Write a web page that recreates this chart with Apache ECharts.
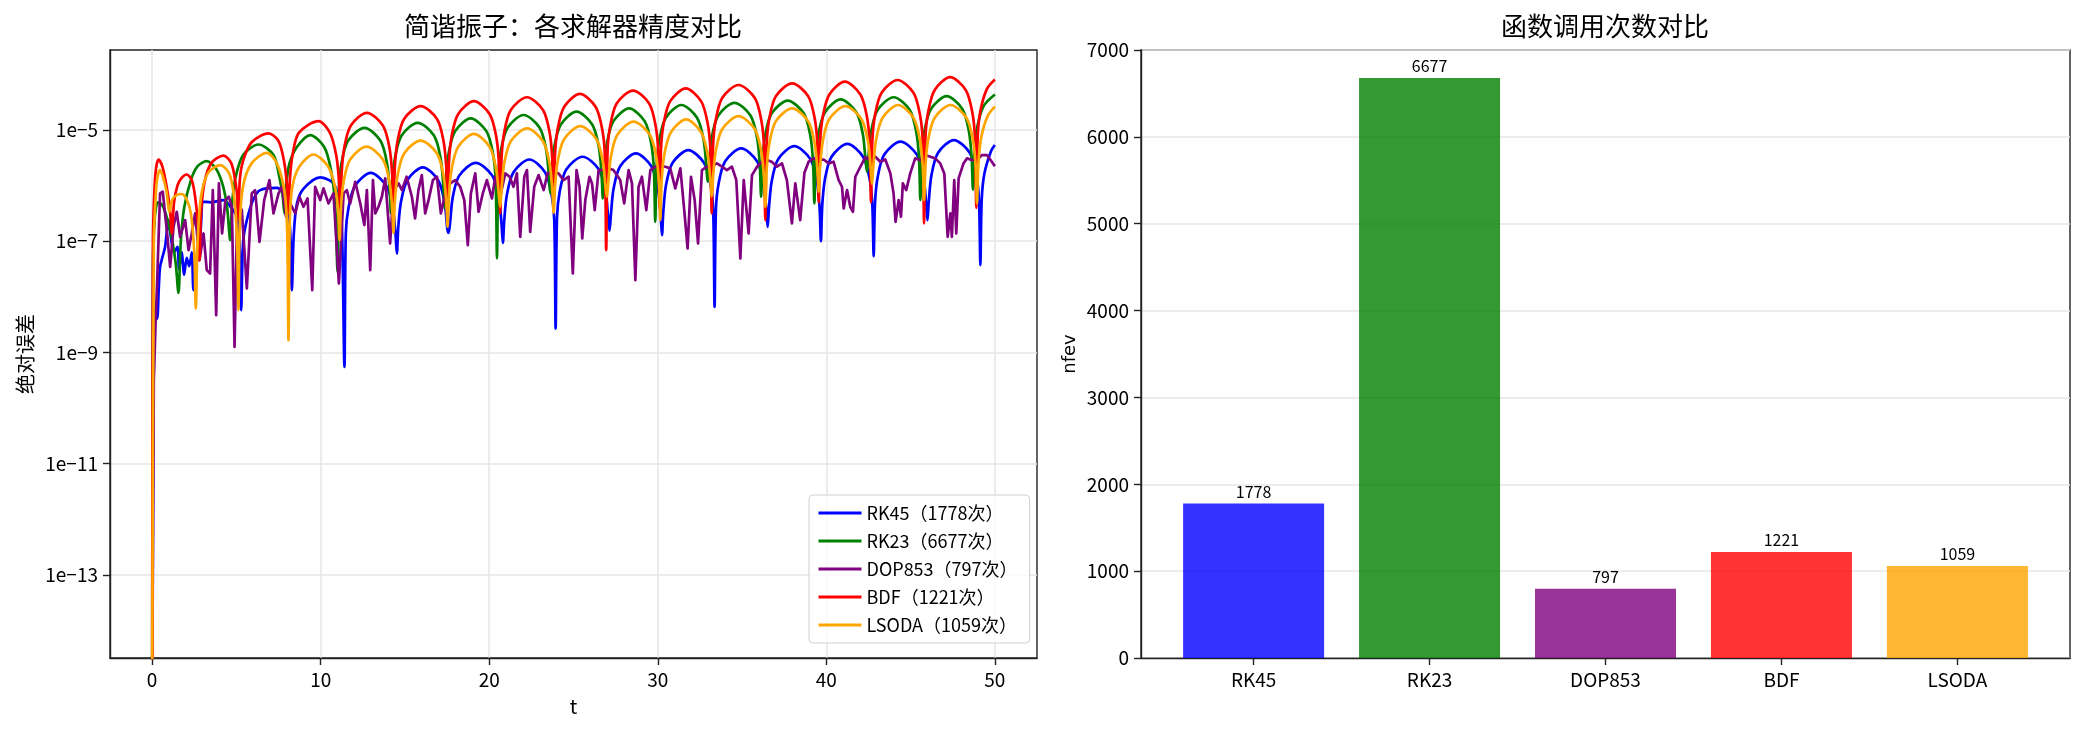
<!DOCTYPE html>
<html>
<head>
<meta charset="utf-8">
<script src="https://cdn.jsdelivr.net/npm/echarts@6.0.0/dist/echarts.min.js"></script>
<style>
  html, body { margin: 0; padding: 0; background: #fff; }
  #main { width: 2085px; height: 735px; }
</style>
</head>
<body>
<div id="main"></div>
<script>
// 求解器名称与函数调用次数
var methods = ['RK45', 'RK23', 'DOP853', 'BDF', 'LSODA'];
var nfev = [1778, 6677, 797, 1221, 1059];
var lineColors = ['#0000ff', '#008000', '#800080', '#ff0000', '#ffa500'];
var barColors = ['rgba(0,0,255,0.8)', 'rgba(0,128,0,0.8)', 'rgba(128,0,128,0.8)', 'rgba(255,0,0,0.8)', 'rgba(255,165,0,0.8)'];

// 刻度
var tTicks = [0, 10, 20, 30, 40, 50];
var errTicks = [1e-13, 1e-11, 1e-9, 1e-7, 1e-5];
var barTicks = [0, 1, 2, 3, 4];

// 绝对误差，每点为 [t, log10(误差)]
var rk45Log = [[0,-15.5],[0.1,-9.0],[0.2,-8.2],[0.3,-8.39],[0.4,-7.8],[0.47,-7.46],[0.6,-7.3],[0.77,-7.1],[0.97,-6.62],[1.1,-6.9],[1.3,-7.2],[1.5,-7.1],[1.6,-7.5],[1.75,-7.2],[1.9,-7.6],[2.05,-7.3],[2.2,-7.45],[2.35,-7.2],[2.45,-7.88],[2.6,-7.3],[2.75,-7.34],[2.9,-6.7],[3.05,-6.29],[3.5,-6.3],[4.23,-6.26],[4.7,-6.4],[5.02,-6.56],[5.18,-7.0],[5.28,-8.24],[5.4,-7.0],[5.62,-6.62],[6.0,-6.25],[6.41,-6.08],[7.4,-6.04],[7.99,-6.26],[8.2,-6.9],[8.29,-7.88],[8.4,-6.9],[8.59,-6.32],[9.0,-6.05],[9.97,-5.85],[10.76,-5.96],[11.1,-6.3],[11.26,-6.74],[11.41,-9.26],
  [11.49,-6.87],[11.65,-6.40],[12.04,-6.00],[12.97,-5.77],[13.89,-6.00],[14.28,-6.40],[14.44,-6.87],[14.52,-7.22],
  [14.60,-6.77],[14.76,-6.30],[15.15,-5.90],[16.06,-5.67],[16.96,-5.90],[17.35,-6.30],[17.51,-6.77],[17.59,-6.85],
  [17.67,-6.69],[17.83,-6.22],[18.22,-5.82],[19.2,-5.59],[20.18,-5.82],[20.57,-6.22],[20.73,-6.69],[20.81,-7.03],
  [20.89,-6.63],[21.05,-6.16],[21.44,-5.76],[22.38,-5.53],[23.31,-5.76],[23.70,-6.16],[23.86,-6.63],[23.94,-8.57],
  [24.02,-6.58],[24.18,-6.11],[24.57,-5.71],[25.54,-5.48],[26.51,-5.71],[26.90,-6.11],[27.06,-6.58],[27.14,-6.81],
  [27.22,-6.52],[27.38,-6.05],[27.77,-5.65],[28.7,-5.42],[29.62,-5.65],[30.01,-6.05],[30.17,-6.52],[30.25,-6.89],
  [30.33,-6.46],[30.49,-5.99],[30.88,-5.59],[31.81,-5.36],[32.74,-5.59],[33.13,-5.99],[33.29,-6.46],[33.37,-8.18],
  [33.45,-6.43],[33.61,-5.96],[34.00,-5.56],[34.95,-5.33],[35.89,-5.56],[36.28,-5.96],[36.44,-6.43],[36.52,-6.74],
  [36.60,-6.39],[36.76,-5.92],[37.15,-5.52],[38.1,-5.29],[39.05,-5.52],[39.44,-5.92],[39.60,-6.39],[39.68,-7.0],
  [39.76,-6.35],[39.92,-5.88],[40.31,-5.48],[41.25,-5.25],[42.18,-5.48],[42.57,-5.88],[42.73,-6.35],[42.81,-7.27],
  [42.89,-6.31],[43.05,-5.84],[43.44,-5.44],[44.4,-5.21],[45.37,-5.44],[45.76,-5.84],[45.92,-6.31],[46.0,-6.62],
  [46.08,-6.28],[46.24,-5.81],[46.63,-5.41],[47.57,-5.18],[48.51,-5.41],[48.90,-5.81],[49.06,-6.28],[49.14,-7.43],
  [49.22,-6.25],[49.38,-5.78],[49.77,-5.38],[50,-5.27]];

var rk23Log = [[0,-15.5],[0.05,-7.5],[0.15,-6.6],[0.35,-6.3],[0.6,-6.35],[0.9,-6.6],[1.2,-7.0],[1.4,-7.4],[1.56,-7.93],[1.7,-7.0],[1.9,-6.4],[2.3,-5.9],[2.7,-5.65],[3.24,-5.56],[3.8,-5.7],[4.2,-6.0],[4.45,-6.4],[4.63,-6.98],[4.75,-6.3],[4.95,-5.85],[5.4,-5.45],[6.31,-5.26],[7.2,-5.45],[7.55,-5.85],[7.75,-6.2],[7.85,-6.5],[7.95,-6.0],[8.15,-5.6],[8.6,-5.3],[9.38,-5.09],[10.2,-5.3],[10.6,-5.7],[10.85,-6.3],[11.0,-7.55],
  [11.08,-6.06],[11.24,-5.59],[11.63,-5.19],[12.6,-4.96],[13.54,-5.19],[13.93,-5.59],[14.09,-6.06],[14.17,-6.5],
  [14.25,-5.97],[14.41,-5.50],[14.80,-5.10],[15.76,-4.87],[16.72,-5.10],[17.11,-5.50],[17.27,-5.97],[17.35,-6.4],
  [17.43,-5.89],[17.59,-5.42],[17.98,-5.02],[18.9,-4.79],[19.83,-5.02],[20.22,-5.42],[20.38,-5.89],[20.46,-7.31],
  [20.54,-5.83],[20.70,-5.36],[21.09,-4.96],[22.04,-4.73],[22.99,-4.96],[23.38,-5.36],[23.54,-5.83],[23.62,-6.14],
  [23.70,-5.77],[23.86,-5.30],[24.25,-4.90],[25.18,-4.67],[26.11,-4.90],[26.50,-5.30],[26.66,-5.77],[26.74,-6.23],
  [26.82,-5.71],[26.98,-5.24],[27.37,-4.84],[28.3,-4.61],[29.22,-4.84],[29.61,-5.24],[29.77,-5.71],[29.85,-6.65],
  [29.93,-5.65],[30.09,-5.18],[30.48,-4.78],[31.4,-4.55],[32.33,-4.78],[32.72,-5.18],[32.88,-5.65],[32.96,-5.93],
  [33.04,-5.61],[33.20,-5.14],[33.59,-4.74],[34.55,-4.51],[35.50,-4.74],[35.89,-5.14],[36.05,-5.61],[36.13,-6.2],
  [36.21,-5.57],[36.37,-5.10],[36.76,-4.70],[37.71,-4.47],[38.66,-4.70],[39.05,-5.10],[39.21,-5.57],[39.29,-6.32],
  [39.37,-5.55],[39.53,-5.08],[39.92,-4.68],[40.85,-4.45],[41.78,-4.68],[42.17,-5.08],[42.33,-5.55],[42.41,-5.75],
  [42.49,-5.51],[42.65,-5.04],[43.04,-4.64],[44.0,-4.41],[44.95,-4.64],[45.34,-5.04],[45.50,-5.51],[45.58,-6.26],
  [45.66,-5.49],[45.82,-5.02],[46.21,-4.62],[47.14,-4.39],[48.07,-4.62],[48.46,-5.02],[48.62,-5.49],[48.7,-6.07],
  [48.78,-5.44],[48.94,-4.97],[49.33,-4.57],[50,-4.36]];

var dop853Log = [[0,-15.5],[0.1,-9.5],[0.2,-8.5],[0.28,-7.88],[0.47,-6.14],[0.63,-6.11],[0.87,-6.8],[1.07,-7.46],[1.27,-6.74],[1.46,-6.47],[1.66,-6.92],[1.96,-6.62],[2.16,-7.16],[2.35,-6.86],[2.55,-6.5],[2.81,-7.34],[3.05,-6.86],[3.24,-7.52],[3.44,-7.58],[3.6,-6.08],[3.8,-8.33],[3.96,-5.96],[4.15,-6.86],[4.35,-6.26],[4.55,-6.2],[4.73,-6.38],[4.89,-8.9],[5.06,-6.32],[5.32,-6.44],[5.62,-7.85],[5.91,-6.14],[6.11,-6.08],[6.37,-7.01],[6.65,-6.26],[6.96,-5.9],[7.2,-6.5],[7.5,-6.14],[7.7,-6.02],[7.95,-6.56],[8.19,-6.32],[8.49,-6.5],[8.74,-6.2],[8.98,-6.38],[9.22,-6.23],[9.5,-7.88],[9.67,-6.02],[9.97,-6.26],[10.17,-6.05],[10.46,-6.32],[10.76,-6.14],[11.08,-7.76],[11.36,-6.14],[11.55,-6.08],[11.75,-6.32],[12.05,-5.93],[12.35,-6.32],[12.59,-6.71],[12.74,-6.08],[12.94,-7.52],[13.1,-5.9],[13.24,-6.5],[13.43,-6.38],[13.63,-6.2],[13.83,-5.87],[14.12,-7.04],[14.32,-6.08],[14.62,-5.96],[14.82,-6.08],[15.1,-5.84],[15.41,-6.2],[15.6,-6.59],[15.8,-6.08],[16.0,-5.81],[16.2,-6.5],[16.4,-6.26],[16.66,-5.9],[16.9,-5.84],[17.13,-6.5],[17.39,-6.14],[17.69,-5.96],[17.98,-5.9],[18.28,-6.02],[18.52,-6.26],[18.73,-7.07],[18.91,-6.14],[19.17,-5.78],[19.37,-6.47],[19.62,-6.14],[19.86,-5.9],[20.16,-6.23],[20.36,-5.84],[20.65,-6.2],[20.95,-5.78],[21.21,-5.84],[21.44,-6.02],[21.64,-5.78],[21.84,-6.92],[22.08,-5.84],[22.24,-5.72],[22.43,-6.83],[22.67,-6.02],[22.93,-5.81],[23.23,-6.08],[23.46,-5.78],[23.82,-5.75],[24.11,-5.78],[24.41,-5.9],[24.71,-5.84],[24.96,-7.58],[25.18,-5.72],[25.36,-6.02],[25.52,-6.95],[25.7,-6.26],[25.95,-5.84],[26.1,-5.96],[26.26,-6.44],[26.49,-5.72],[26.78,-5.72],[27.08,-5.69],[27.37,-5.72],[27.77,-5.9],[28.01,-6.32],[28.27,-5.72],[28.47,-5.96],[28.67,-7.7],[28.86,-6.02],[29.06,-5.84],[29.32,-6.44],[29.56,-5.72],[29.85,-5.66],[30.15,-5.65],[30.45,-5.66],[30.74,-5.69],[31.04,-6.05],[31.34,-5.69],[31.57,-6.44],[31.77,-7.13],[31.97,-5.84],[32.19,-6.26],[32.39,-7.04],[32.62,-5.72],[32.92,-5.66],[33.21,-5.65],[33.51,-5.6],[33.81,-5.66],[34.1,-5.72],[34.4,-5.66],[34.66,-5.9],[34.9,-7.31],[35.1,-5.9],[35.39,-6.86],[35.59,-5.81],[35.89,-5.66],[36.18,-5.57],[36.46,-5.54],[36.76,-5.57],[37.07,-5.66],[37.37,-5.6],[37.66,-5.9],[37.96,-6.68],[38.16,-5.96],[38.45,-6.62],[38.7,-5.77],[38.95,-5.57],[39.25,-5.51],[39.55,-5.54],[39.84,-5.53],[40.14,-5.6],[40.43,-5.57],[40.73,-5.9],[40.93,-6.02],[41.03,-6.41],[41.23,-6.08],[41.42,-6.38],[41.58,-6.47],[41.72,-5.84],[42.02,-5.66],[42.31,-5.49],[42.61,-5.54],[42.91,-5.48],[43.2,-5.57],[43.5,-5.53],[43.8,-5.78],[43.99,-6.14],[44.11,-6.65],[44.29,-6.26],[44.43,-6.56],[44.54,-5.96],[44.74,-6.08],[44.98,-5.78],[45.27,-5.51],[45.57,-5.54],[45.87,-5.45],[46.17,-5.48],[46.46,-5.51],[46.76,-5.6],[47.0,-5.78],[47.2,-6.92],[47.36,-6.5],[47.45,-6.92],[47.59,-5.9],[47.71,-6.86],[47.85,-5.87],[48.14,-5.6],[48.34,-5.51],[48.64,-5.54],[48.93,-5.54],[49.23,-5.45],[49.53,-5.45],[49.82,-5.57],[50,-5.65]];

var bdfLog = [[0,-15.5],[0.05,-7.0],[0.15,-6.0],[0.25,-5.65],[0.38,-5.53],[0.6,-5.65],[0.85,-6.0],[1.05,-6.4],[1.17,-6.86],[1.3,-6.3],[1.5,-6.0],[1.75,-5.86],[2.06,-5.80],[2.35,-5.9],[2.55,-6.2],[2.72,-6.7],[2.81,-7.34],[2.9,-6.5],[3.1,-5.95],[3.5,-5.6],[4.23,-5.46],[4.7,-5.6],[4.95,-5.95],[5.05,-6.2],[5.12,-6.6],[5.2,-5.9],[5.4,-5.55],[5.9,-5.22],[6.9,-5.06],[7.5,-5.2],[7.85,-5.6],[8.0,-6.0],[8.09,-6.5],[8.17,-5.9],[8.33,-5.45],[8.7,-5.05],[9.87,-4.84],[10.55,-5.05],[10.92,-5.45],[11.08,-5.9],[11.16,-6.5],
  [11.24,-5.79],[11.40,-5.32],[11.79,-4.92],[12.74,-4.69],[13.69,-4.92],[14.08,-5.32],[14.24,-5.79],[14.32,-6.5],
  [14.40,-5.67],[14.56,-5.20],[14.95,-4.80],[15.93,-4.57],[16.90,-4.80],[17.29,-5.20],[17.45,-5.67],[17.53,-6.4],
  [17.61,-5.58],[17.77,-5.11],[18.16,-4.71],[19.09,-4.48],[20.02,-4.71],[20.41,-5.11],[20.57,-5.58],[20.65,-6.5],
  [20.73,-5.51],[20.89,-5.04],[21.28,-4.64],[22.24,-4.41],[23.19,-4.64],[23.58,-5.04],[23.74,-5.51],[23.82,-6.3],
  [23.90,-5.45],[24.06,-4.98],[24.45,-4.58],[25.38,-4.35],[26.31,-4.58],[26.70,-4.98],[26.86,-5.45],[26.94,-7.16],
  [27.02,-5.39],[27.18,-4.92],[27.57,-4.52],[28.53,-4.29],[29.48,-4.52],[29.87,-4.92],[30.03,-5.39],[30.11,-6.4],
  [30.19,-5.35],[30.35,-4.88],[30.74,-4.48],[31.66,-4.25],[32.57,-4.48],[32.96,-4.88],[33.12,-5.35],[33.2,-6.5],
  [33.28,-5.29],[33.44,-4.82],[33.83,-4.42],[34.79,-4.19],[35.75,-4.42],[36.14,-4.82],[36.30,-5.29],[36.38,-6.62],
  [36.46,-5.26],[36.62,-4.79],[37.01,-4.39],[37.97,-4.16],[38.92,-4.39],[39.31,-4.79],[39.47,-5.26],[39.55,-6.3],
  [39.63,-5.23],[39.79,-4.76],[40.18,-4.36],[41.1,-4.13],[42.02,-4.36],[42.41,-4.76],[42.57,-5.23],[42.65,-6.3],
  [42.73,-5.20],[42.89,-4.73],[43.28,-4.33],[44.23,-4.10],[45.17,-4.33],[45.56,-4.73],[45.72,-5.20],[45.8,-6.68],
  [45.88,-5.15],[46.04,-4.68],[46.43,-4.28],[47.35,-4.05],[48.27,-4.28],[48.66,-4.68],[48.82,-5.15],[48.9,-6.4],
  [48.98,-5.13],[49.14,-4.66],[49.53,-4.26],[50,-4.09]];

var lsodaLog = [[0,-15.8],[0.1,-7.0],[0.25,-6.0],[0.35,-5.8],[0.47,-5.72],[0.65,-5.85],[0.85,-6.1],[1.03,-6.47],[1.2,-6.25],[1.45,-6.17],[1.76,-6.15],[2.05,-6.25],[2.3,-6.5],[2.5,-7.2],[2.59,-8.21],[2.7,-7.0],[2.9,-6.2],[3.3,-5.78],[4.04,-5.63],[4.6,-5.8],[4.9,-6.3],[5.04,-7.0],[5.12,-8.24],[5.2,-6.7],[5.4,-6.0],[5.9,-5.6],[6.8,-5.41],[7.4,-5.6],[7.85,-6.1],[8.01,-6.8],[8.09,-8.78],[8.17,-6.6],[8.33,-6.0],[8.75,-5.65],[9.57,-5.44],[10.45,-5.66],[10.88,-6.06],[11.04,-6.5],[11.12,-6.98],
  [11.20,-6.40],[11.36,-5.93],[11.75,-5.53],[12.72,-5.30],[13.69,-5.53],[14.08,-5.93],[14.24,-6.40],[14.32,-6.85],
  [14.40,-6.29],[14.56,-5.82],[14.95,-5.42],[15.93,-5.19],[16.90,-5.42],[17.29,-5.82],[17.45,-6.29],[17.53,-6.74],
  [17.61,-6.17],[17.77,-5.70],[18.16,-5.30],[19.09,-5.07],[20.02,-5.30],[20.41,-5.70],[20.57,-6.17],[20.65,-6.38],
  [20.73,-6.07],[20.89,-5.60],[21.28,-5.20],[22.24,-4.97],[23.19,-5.20],[23.58,-5.60],[23.74,-6.07],[23.82,-6.49],
  [23.90,-6.03],[24.06,-5.56],[24.45,-5.16],[25.4,-4.93],[26.35,-5.16],[26.74,-5.56],[26.90,-6.03],[26.98,-6.2],
  [27.06,-5.95],[27.22,-5.48],[27.61,-5.08],[28.56,-4.85],[29.52,-5.08],[29.91,-5.48],[30.07,-5.95],[30.15,-6.62],
  [30.23,-5.91],[30.39,-5.44],[30.78,-5.04],[31.68,-4.81],[32.57,-5.04],[32.96,-5.44],[33.12,-5.91],[33.2,-6.2],
  [33.28,-5.85],[33.44,-5.38],[33.83,-4.98],[34.79,-4.75],[35.75,-4.98],[36.14,-5.38],[36.30,-5.85],[36.38,-6.38],
  [36.46,-5.71],[36.62,-5.24],[37.01,-4.84],[37.97,-4.61],[38.92,-4.84],[39.31,-5.24],[39.47,-5.71],[39.55,-6.11],
  [39.63,-5.67],[39.79,-5.20],[40.18,-4.80],[41.13,-4.57],[42.08,-4.80],[42.47,-5.20],[42.63,-5.67],[42.71,-5.97],
  [42.79,-5.65],[42.95,-5.18],[43.34,-4.78],[44.26,-4.55],[45.17,-4.78],[45.56,-5.18],[45.72,-5.65],[45.8,-6.26],
  [45.88,-5.65],[46.04,-5.18],[46.43,-4.78],[47.37,-4.55],[48.31,-4.78],[48.70,-5.18],[48.86,-5.65],[48.94,-6.32],
  [49.02,-5.62],[49.18,-5.15],[49.57,-4.75],[50,-4.58]];

var errLogs = [rk45Log, rk23Log, dop853Log, bdfLog, lsodaLog];
var smoothLevels = [0.3, 0.3, 0, 0.3, 0.3];   // DOP853 曲线本身就是锯齿状

var FONT = "'Noto Sans CJK SC', 'Noto Sans', sans-serif";
var AXIS_COLOR = '#222';
var GRID_COLOR = '#e6e6e6';

function legendName(i) {
    return methods[i] + '（' + nfev[i] + '次）';
}

function DrawCharts() {
    var lineSeries = errLogs.map(function (pts, i) {
        return {
            name: legendName(i),
            type: 'line',
            xAxisIndex: 0,
            yAxisIndex: 0,
            showSymbol: false,
            symbol: 'none',
            smooth: smoothLevels[i] || false,
            clip: true,
            data: pts.map(function (p) { return [p[0], Math.pow(10, p[1])]; }),
            lineStyle: { color: lineColors[i], width: 2.7, join: 'round' },
            itemStyle: { color: lineColors[i] },
            emphasis: { disabled: true },
            z: 2 + i
        };
    });

    var barSeries = {
        type: 'bar',
        xAxisIndex: 1,
        yAxisIndex: 1,
        barWidth: 141,
        data: nfev.map(function (v, i) {
            return { value: [i, v], itemStyle: { color: barColors[i] } };
        }),
        label: {
            show: true, position: 'top', distance: 4,
            fontSize: 16, color: '#000', fontFamily: FONT,
            formatter: function (p) { return String(p.value[1]); }
        },
        emphasis: { disabled: true }
    };

    var option = {
        animation: false,
        backgroundColor: '#fff',
        textStyle: { fontFamily: FONT },
        title: [
            { text: '简谐振子：各求解器精度对比', left: 573, top: 13, textAlign: 'center', padding: 0,
              textStyle: { fontSize: 26, fontWeight: 'normal', color: '#000', fontFamily: FONT } },
            { text: '函数调用次数对比', left: 1605, top: 13, textAlign: 'center', padding: 0,
              textStyle: { fontSize: 26, fontWeight: 'normal', color: '#000', fontFamily: FONT } }
        ],
        legend: {
            orient: 'vertical',
            left: 809, top: 495,
            itemWidth: 43, itemHeight: 14, itemGap: 10,
            padding: [9, 12, 9, 8],
            backgroundColor: 'rgba(255,255,255,0.8)',
            borderColor: '#d0d0d0', borderWidth: 1, borderRadius: 4,
            itemStyle: { opacity: 0 },
            lineStyle: { width: 3 },
            textStyle: { fontSize: 18, color: '#000', fontFamily: FONT },
            data: methods.map(function (m, i) { return legendName(i); })
        },
        grid: [
            { left: 110, top: 50, width: 927, height: 608, show: true, borderColor: AXIS_COLOR, borderWidth: 1.4, backgroundColor: 'transparent' },
            { left: 1141, top: 50, width: 929, height: 608, show: true, borderColor: AXIS_COLOR, borderWidth: 1.4, backgroundColor: 'transparent' }
        ],
        xAxis: [
            {
                type: 'value', gridIndex: 0, min: -2.5, max: 52.5,
                name: 't', nameLocation: 'middle', nameGap: 38,
                nameTextStyle: { fontSize: 20, color: '#000', fontFamily: FONT },
                axisLine: { show: true, onZero: false, lineStyle: { color: AXIS_COLOR, width: 1.4 } },
                axisTick: { show: true, length: 7, customValues: tTicks, lineStyle: { color: AXIS_COLOR, width: 1.4 } },
                axisLabel: { customValues: tTicks, fontSize: 19, color: '#000', margin: 12, fontFamily: FONT },
                splitLine: { show: true, lineStyle: { color: GRID_COLOR, width: 1.5 } }
            },
            {
                type: 'value', gridIndex: 1, min: -0.64, max: 4.64,
                axisLine: { show: true, onZero: false, lineStyle: { color: AXIS_COLOR, width: 1.4 } },
                axisTick: { show: true, length: 7, customValues: barTicks, lineStyle: { color: AXIS_COLOR, width: 1.4 } },
                axisLabel: { customValues: barTicks, fontSize: 19, color: '#000', margin: 12, fontFamily: FONT,
                    formatter: function (v) { return methods[Math.round(v)]; } },
                splitLine: { show: false }
            }
        ],
        yAxis: [
            {
                type: 'log', logBase: 10, gridIndex: 0, min: 3.2e-15, max: 2.75e-4,
                name: '绝对误差', nameLocation: 'middle', nameGap: 75,
                nameTextStyle: { fontSize: 20, color: '#000', fontFamily: FONT },
                axisLine: { show: true, onZero: false, lineStyle: { color: AXIS_COLOR, width: 1.4 } },
                axisTick: { show: true, length: 7, customValues: errTicks, lineStyle: { color: AXIS_COLOR, width: 1.4 } },
                axisLabel: { customValues: errTicks, fontSize: 19, color: '#000', margin: 12, fontFamily: FONT,
                    formatter: function (v) { return '1e\u2212' + Math.round(-Math.log10(v)); } },
                splitLine: { show: true, lineStyle: { color: GRID_COLOR, width: 1.5 } },
                minorTick: { show: false }
            },
            {
                type: 'value', gridIndex: 1, min: 0, max: 7000, interval: 1000,
                name: 'nfev', nameLocation: 'middle', nameGap: 62,
                nameTextStyle: { fontSize: 18, color: '#000', fontFamily: "'DejaVu Sans', sans-serif" },
                axisLine: { show: true, onZero: false, lineStyle: { color: AXIS_COLOR, width: 1.4 } },
                axisTick: { show: true, length: 7, lineStyle: { color: AXIS_COLOR, width: 1.4 } },
                axisLabel: { fontSize: 19, color: '#000', margin: 12, fontFamily: FONT,
                    formatter: function (v) { return String(v); } },
                splitLine: { show: true, lineStyle: { color: GRID_COLOR, width: 1.5 } }
            }
        ],
        series: lineSeries.concat([barSeries])
    };

    var myChart = echarts.init(document.getElementById('main'), null, { renderer: 'canvas' });
    myChart.setOption(option, true);
}

DrawCharts();
</script>
</body>
</html>
